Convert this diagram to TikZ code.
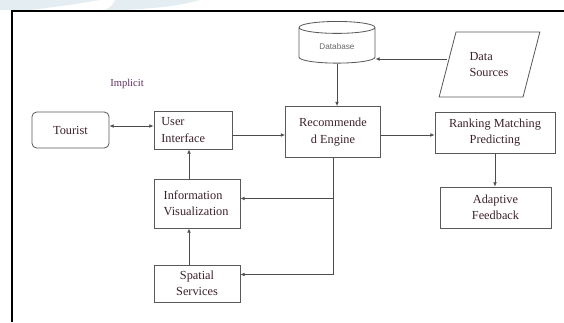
\documentclass[tikz,border=0pt]{standalone}
\usepackage{fontspec}
\setmainfont{Liberation Serif}
\setsansfont{Liberation Sans}
\usetikzlibrary{shapes.geometric,arrows.meta}
\definecolor{txt}{RGB}{60,32,40}
\definecolor{implcol}{RGB}{95,45,95}
\definecolor{wmark}{RGB}{228,237,242}

\begin{document}
\begin{tikzpicture}[x=0.03cm,y=-0.03cm,
    >={Latex[length=3.6pt,width=3.2pt]},
    box/.style={draw=black!65,line width=0.7pt,text=txt,inner sep=2pt,
      font=\fontsize{10.5}{14}\selectfont},
    rbox/.style={box,rounded corners=4pt},
    cyl/.style={box,shape=cylinder,shape border rotate=90,aspect=0.3,
      text=black!60,font=\sffamily\fontsize{7}{8}\selectfont},
    para/.style={box,trapezium,trapezium left angle=69,trapezium right angle=111,
      trapezium stretches=true},
    link/.style={draw=black!70,line width=0.7pt}]
  \useasboundingbox (0,0) rectangle (564,322);

  % faint background marks
  \fill[wmark] (0,0) -- (100,0) .. controls (70,5) .. (30,10) -- (0,10) -- cycle;
  \fill[wmark] (115,0) -- (200,0) .. controls (180,6) and (150,9) .. (120,10) -- (105,10) .. controls (112,6) .. (115,0) -- cycle;

  % frame
  \draw[line width=1.6pt] (12,322) -- (12,11) -- (564,11);

  % left column
  \node[rbox,minimum width=2.31cm,minimum height=1.08cm] (tourist) at (70.5,130) {Tourist};
  \node[box,minimum width=2.34cm,minimum height=1.14cm,text width=1.9cm,align=left] (ui) at (193,130) {User\\Interface};
  \node[box,minimum width=2.58cm,minimum height=1.47cm,text width=2.0cm,align=left] (infovis) at (197,203.5) {Information\\Visualization};
  \node[box,minimum width=2.58cm,minimum height=1.11cm,align=center] (spatial) at (197,283.5) {Spatial\\Services};
  \node[text=implcol,font=\fontsize{9}{10}\selectfont] (implicit) at (127,84) {Implicit};

  % middle and right
  \node[cyl,minimum width=2.28cm,minimum height=1.25cm] (db) at (337,46.5) {Database};
  \node[box,minimum width=2.85cm,minimum height=1.53cm,align=center] (engine) at (333,132) {Recommende\\d Engine};
  \node[para,minimum width=3.03cm,minimum height=1.95cm,text width=1.2cm,align=left] (sources) at (489.5,64.5) {Data\\Sources};
  \node[box,minimum width=3.6cm,minimum height=1.23cm,align=center] (rank) at (495,132.5) {Ranking Matching\\Predicting};
  \node[box,minimum width=3.33cm,minimum height=1.23cm,align=center] (adapt) at (495.5,207.5) {Adaptive\\Feedback};

  \coordinate (col) at (189,0);

  % connectors
  \draw[link,<->] ([yshift=0.12cm]tourist.east) -- ([yshift=0.12cm]tourist.east -| ui.west);
  \draw[link,->] ([yshift=-0.15cm]ui.east) -- ([yshift=-0.15cm]ui.east -| engine.west);
  \draw[link,->] ([yshift=0.165cm]sources.west) -- ([yshift=0.165cm]sources.west -| db.east);
  \draw[link,->] (db.south) -- (db.south |- engine.north);
  \draw[link,->] ([yshift=-0.09cm]engine.east) -- ([yshift=-0.09cm]engine.east -| rank.west);
  \draw[link,->] (rank.south) -- (rank.south |- adapt.north);
  \draw[link,->] (col |- spatial.north) -- (col |- infovis.south);
  \draw[link,->] (col |- infovis.north) -- (col |- ui.south);
  \draw[link,->] (engine.south) |- ([yshift=0.27cm]spatial.east);
  \draw[link,->] (engine.south |- infovis.east) ++(0,-5) -- ([yshift=0.15cm]infovis.east);
\end{tikzpicture}
\end{document}
